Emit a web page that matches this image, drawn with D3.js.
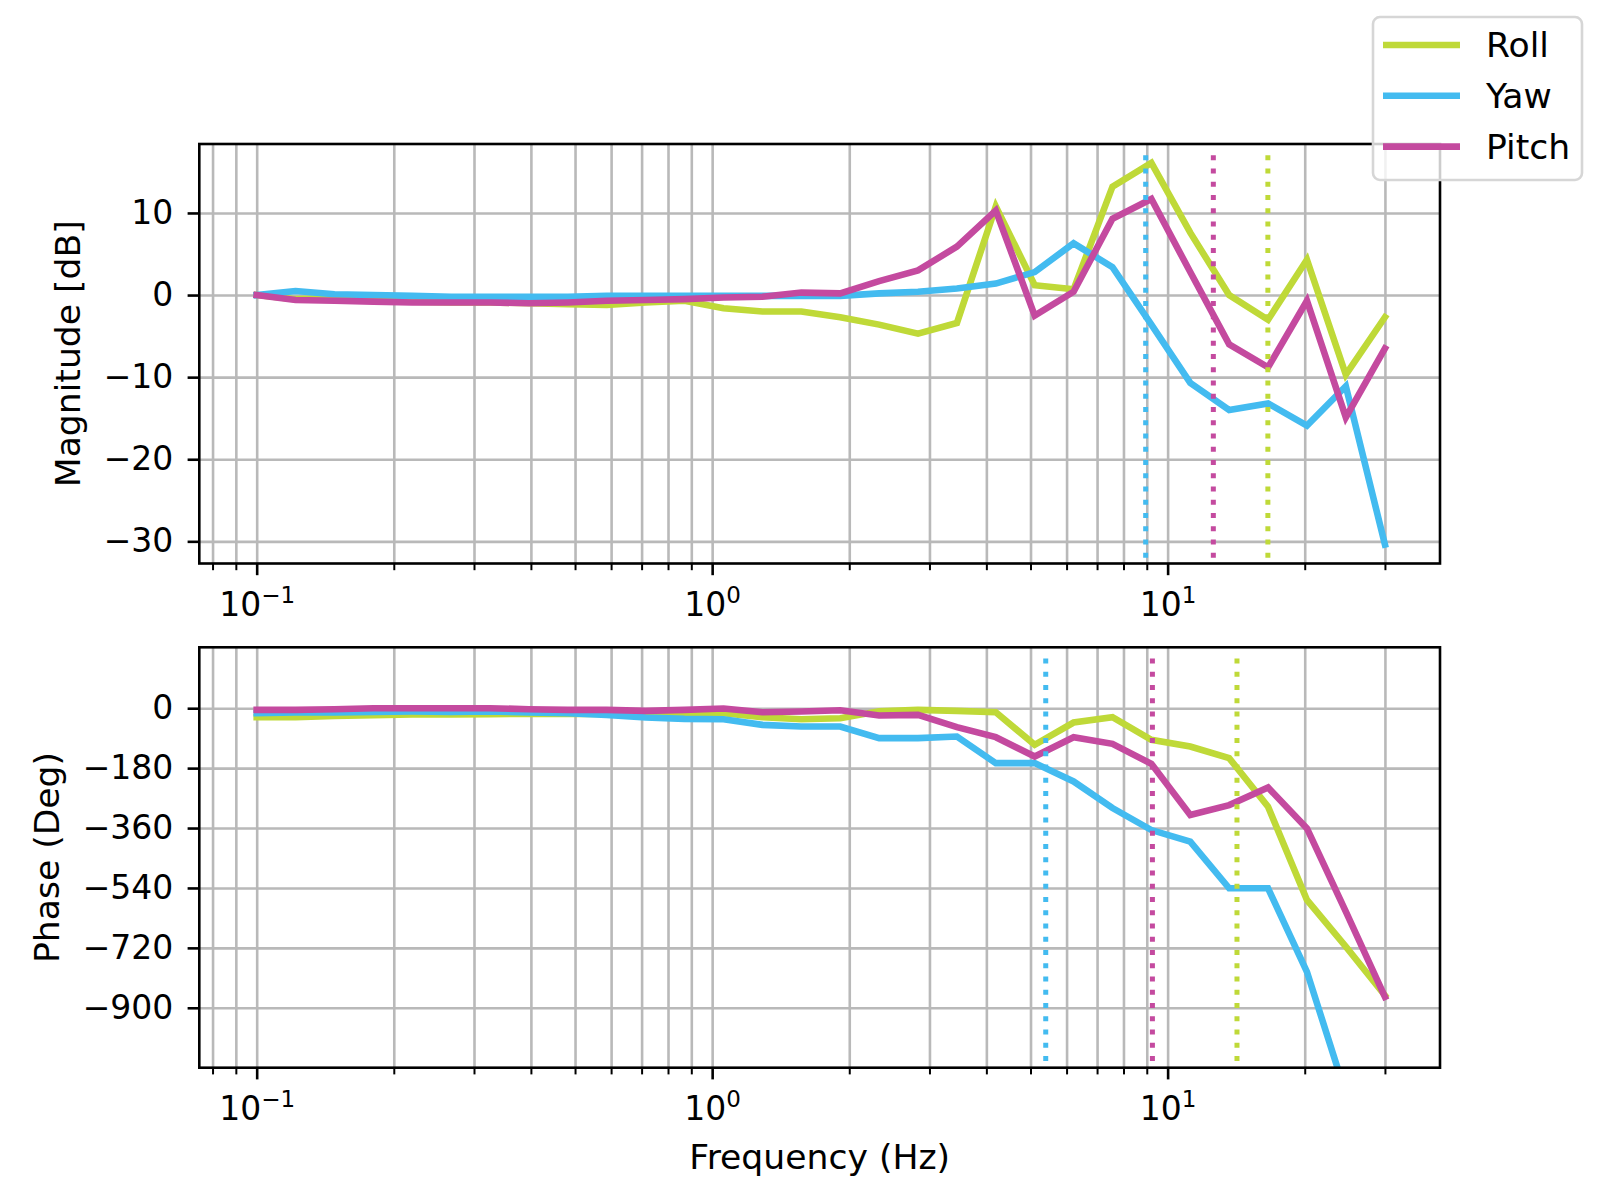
<!DOCTYPE html>
<html>

<head>
    <meta charset="utf-8">
    <style>
        body {
            margin: 0;
            background: #fff;
        }

        svg,
        svg text {
            font-family: "DejaVu Sans", sans-serif;
        }

        .grid line {
            stroke: #b9b9b9;
            stroke-width: 2.6px;
        }

        .grid .domain {
            display: none;
        }

        .axis .domain {
            display: none;
        }

        .axis text {
            font-family: "DejaVu Sans", sans-serif;
            font-size: 33px;
            fill: #000;
        }

        .axis .tick line {
            stroke: #000;
            stroke-width: 2.6px;
        }

        .minor .tick line {
            stroke-width: 2px;
        }

        .label {
            font-size: 34.6px;
            fill: #000;
        }
    </style>
</head>

<body>
    <svg width="1600" height="1200"></svg>

    <script src="https://d3js.org/d3.v7.min.js"></script>

    <script>
        let width = 1600;
        let height = 1200;

        let svg = d3.select("svg")

        // frequency points (Hz)
        let freq = [0.1, 0.1217, 0.1482, 0.1804, 0.2195, 0.2672, 0.3253, 0.396, 0.482, 0.5868,
            0.7143, 0.8694, 1.0593, 1.2894, 1.5697, 1.9107, 2.3259, 2.8313, 3.4465, 4.1953,
            5.1069, 6.2165, 7.5673, 9.2116, 11.213, 13.65, 16.615, 20.226, 24.62, 30.0]

        // magnitude [dB]
        let magRoll = [0, -0.5, -0.4, -0.3, -0.8, -0.9, -0.9, -1.0, -1.1, -1.2,
            -0.9, -0.7, -1.6, -2.0, -2.0, -2.7, -3.6, -4.7, -3.4, 10.8,
            1.2, 0.7, 13.2, 16.1, 7.6, 0.0, -3.0, 4.3, -9.7, -2.7]
        let magYaw = [0, 0.5, 0.1, 0.0, -0.1, -0.2, -0.2, -0.2, -0.2, -0.1,
            -0.1, -0.1, -0.1, -0.1, -0.1, -0.1, 0.2, 0.4, 0.8, 1.4,
            2.8, 6.3, 3.4, -3.6, -10.7, -14.0, -13.2, -15.9, -11.1, -30.4]
        let magPitch = [0, -0.6, -0.7, -0.8, -0.9, -0.9, -0.9, -1.0, -0.9, -0.7,
            -0.6, -0.5, -0.3, -0.2, 0.3, 0.2, 1.7, 3.0, 5.9, 10.3,
            -2.5, 0.4, 9.3, 11.7, 2.8, -6.0, -8.8, -0.7, -14.9, -6.5]

        // phase [deg]
        let phaseRoll = [-27, -27, -23, -21, -19, -19, -18, -17, -17, -17,
            -15, -17, -15, -27, -33, -30, -9, -5, -8, -12,
            -110, -43, -27, -95, -115, -150, -296, -576, -716, -863]
        let phaseYaw = [-15, -13, -13, -11, -10, -11, -10, -13, -15, -20,
            -28, -32, -33, -50, -55, -55, -90, -90, -85, -165,
            -165, -220, -300, -366, -401, -541, -541, -792, -1159, -1500]
        let phasePitch = [-5, -5, -3, 0, 0, 0, 0, -3, -5, -5,
            -8, -5, -1, -12, -10, -6, -22, -20, -57, -87,
            -145, -87, -107, -167, -321, -291, -238, -361, -611, -867]

        // dotted markers (Hz)
        let magMarks = { Roll: 16.6, Yaw: 8.95, Pitch: 12.6 }
        let phaseMarks = { Roll: 14.2, Yaw: 5.40, Pitch: 9.26 }

        let names = ["Roll", "Yaw", "Pitch"]
        let colors = { Roll: "#bfd938", Yaw: "#43bbf0", Pitch: "#c44a9f" }

        // ticks
        let majorX = [0.1, 1, 10]
        let minorX = [0.08, 0.09, 0.2, 0.3, 0.4, 0.5, 0.6, 0.7, 0.8, 0.9,
            2, 3, 4, 5, 6, 7, 8, 9, 20, 30]
        let magTicks = [10, 0, -10, -20, -30]
        let phaseTicks = [0, -180, -360, -540, -720, -900]

        let margin = { left: 199.3, right: 1440 }

        let x = d3.scaleLog()
            .domain([0.07482, 39.63])
            .range([margin.left, margin.right])

        let panels = [
            {
                id: "mag", top: 144, bottom: 563.5, domain: [-32.7, 18.4], ticks: magTicks,
                series: { Roll: magRoll, Yaw: magYaw, Pitch: magPitch },
                marks: magMarks, markSpan: [-32, 17.5],
                label: "Magnitude [dB]", labelX: 80
            },
            {
                id: "phase", top: 647.3, bottom: 1067.7, domain: [-1080, 183], ticks: phaseTicks,
                series: { Roll: phaseRoll, Yaw: phaseYaw, Pitch: phasePitch },
                marks: phaseMarks, markSpan: [-1060, 167],
                label: "Phase (Deg)", labelX: 59
            }
        ]

        // matplotlib style unicode minus
        let minus = s => ("" + s).replace("-", "\u2212")

        let supFormat = d => minus(Math.round(Math.log10(d)))

        panels.forEach(p => {
            let y = d3.scaleLinear()
                .domain(p.domain)
                .range([p.bottom, p.top])

            let h = p.bottom - p.top
            let w = margin.right - margin.left

            svg.append("clipPath")
                .attr("id", "clip-" + p.id)
                .append("rect")
                .attr("x", margin.left)
                .attr("y", p.top)
                .attr("width", w)
                .attr("height", h)

            // grid, major + minor
            svg.append("g")
                .attr("class", "grid")
                .attr("transform", `translate(0,${p.bottom})`)
                .call(d3.axisBottom(x).tickValues(majorX.concat(minorX)).tickSize(-h).tickFormat(""))

            svg.append("g")
                .attr("class", "grid")
                .attr("transform", `translate(${margin.left},0)`)
                .call(d3.axisLeft(y).tickValues(p.ticks).tickSize(-w).tickFormat(""))

            // data lines
            let line = d3.line()
                .x((d, i) => x(freq[i]))
                .y(d => y(d))

            let plot = svg.append("g")
                .attr("clip-path", `url(#clip-${p.id})`)

            names.forEach(n => {
                plot.append("path")
                    .datum(p.series[n])
                    .attr("d", line)
                    .attr("fill", "none")
                    .attr("stroke", colors[n])
                    .attr("stroke-width", 6.6)
                    .attr("stroke-linejoin", "miter")
                    .attr("stroke-linecap", "square")
            })

            // dotted verticals, drawn bottom up like matplotlib
            names.forEach(n => {
                plot.append("line")
                    .attr("x1", x(p.marks[n]))
                    .attr("x2", x(p.marks[n]))
                    .attr("y1", y(p.markSpan[0]))
                    .attr("y2", y(p.markSpan[1]))
                    .attr("stroke", colors[n])
                    .attr("stroke-width", 5)
                    .attr("stroke-dasharray", "5,8.25")
            })

            // frame
            svg.append("rect")
                .attr("x", margin.left)
                .attr("y", p.top)
                .attr("width", w)
                .attr("height", h)
                .attr("fill", "none")
                .attr("stroke", "#000")
                .attr("stroke-width", 2.6)

            // x axis: major ticks with 10^n labels
            let xAxis = svg.append("g")
                .attr("class", "axis")
                .attr("transform", `translate(0,${p.bottom})`)
                .call(d3.axisBottom(x).tickValues(majorX).tickSize(11.7).tickPadding(17.4).tickFormat(""))
                .attr("font-family", null)

            xAxis.selectAll(".tick text").each(function (d) {
                let t = d3.select(this)
                t.append("tspan").text("10")
                t.append("tspan")
                    .attr("dy", -13)
                    .attr("font-size", "23px")
                    .text(supFormat(d))
            })

            svg.append("g")
                .attr("class", "axis minor")
                .attr("transform", `translate(0,${p.bottom})`)
                .call(d3.axisBottom(x).tickValues(minorX).tickSize(6.7).tickFormat(""))

            // y axis
            svg.append("g")
                .attr("class", "axis")
                .attr("transform", `translate(${margin.left},0)`)
                .call(d3.axisLeft(y).tickValues(p.ticks).tickSize(11.7).tickPadding(14.3).tickFormat(minus))
                .attr("font-family", null)

            svg.append("text")
                .attr("class", "label")
                .attr("text-anchor", "middle")
                .attr("transform", `translate(${p.labelX},${(p.top + p.bottom) / 2}) rotate(-90)`)
                .text(p.label)
        })

        svg.append("text")
            .attr("class", "label")
            .attr("text-anchor", "middle")
            .attr("x", (margin.left + margin.right) / 2)
            .attr("y", 1169)
            .text("Frequency (Hz)")

        // legend
        let legend = svg.append("g")

        legend.append("rect")
            .attr("x", 1373)
            .attr("y", 17)
            .attr("width", 209)
            .attr("height", 163)
            .attr("rx", 7)
            .attr("fill", "#fff")
            .attr("fill-opacity", 0.8)
            .attr("stroke", "#d6d6d6")
            .attr("stroke-width", 2.6)

        let rows = legend.selectAll(".row")
            .data(names)
            .join("g")
            .attr("class", "row")
            .attr("transform", (d, i) => `translate(0,${45 + i * 50.8})`)

        rows.append("line")
            .attr("x1", 1383)
            .attr("x2", 1460)
            .attr("stroke", d => colors[d])
            .attr("stroke-width", 6.6)

        rows.append("text")
            .attr("class", "label")
            .attr("x", 1486)
            .attr("dy", "0.36em")
            .text(d => d)
    </script>
</body>

</html>
